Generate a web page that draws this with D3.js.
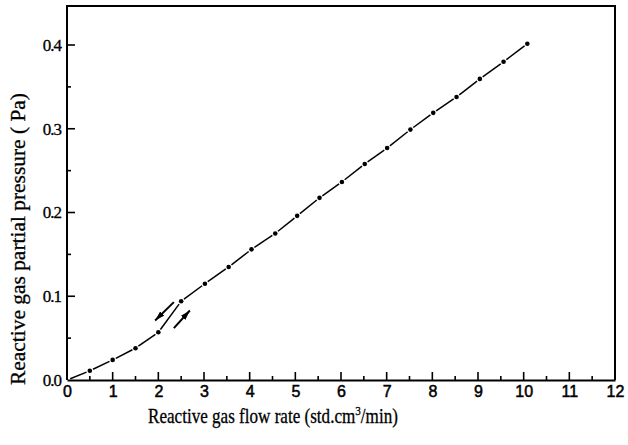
<!DOCTYPE html>
<html><head><meta charset="utf-8">
<script src="https://cdn.jsdelivr.net/npm/d3@7"></script>
<style>body{margin:0;background:#fff}svg{display:block}</style>
</head><body>
<svg id="c" width="628" height="445"></svg>
<script>
const flowRate = [0, 0.5, 1.0, 1.5, 2.0, 2.5, 3.02, 3.54, 4.04, 4.56, 5.04, 5.53, 6.02, 6.52, 7.01, 7.52, 8.02, 8.53, 9.04, 9.56, 10.08];
const pressure = [0.0, 0.011, 0.024, 0.038, 0.057, 0.094, 0.115, 0.135, 0.156, 0.175, 0.196, 0.2175, 0.2365, 0.258, 0.277, 0.299, 0.319, 0.338, 0.3595, 0.38, 0.4015];
const xTicks = [0,1,2,3,4,5,6,7,8,9,10,11,12];
const yTicks = [0.0, 0.1, 0.2, 0.3, 0.4];
const yTickLabels = ["0.0","0.1","0.2","0.3","0.4"];
// hysteresis arrows: [x1,y1,x2,y2] (tail -> head), data units
const arrows = [[2.34, 0.093, 1.93, 0.071], [2.34, 0.062, 2.69, 0.083]];
const xTitle = "Reactive gas flow rate (std.cm";
const yTitle = "Reactive gas partial pressure ( Pa)";

const svg = d3.select("#c");
const L = 67, R = 615, T = 6, B = 380;
const x = d3.scaleLinear().domain([0, 12]).range([L, R]);
const y = d3.scaleLinear().domain([0, 0.4]).range([B, 45]);

// frame
svg.append("path").attr("d", `M${L},${B}V${T}H${R}V${B}`).attr("fill","none").attr("stroke","#000").attr("stroke-width",2);

// x axis
const xAxis = d3.axisBottom(x).tickValues(xTicks).tickSize(0).tickPadding(6).tickFormat(d3.format("d"));
const gx = svg.append("g").attr("transform", `translate(0,${B})`).call(xAxis);
gx.select(".domain").attr("stroke","#000").attr("stroke-width",2);
gx.selectAll("text").attr("font-family","Liberation Sans, Arial, sans-serif").attr("font-size",16).attr("fill","#000").attr("stroke","#000").attr("stroke-width",0.5);
const xMinor = d3.range(0.5, 12, 1);
svg.append("g").selectAll("line").data(xTicks.slice(1, -1)).join("line")
  .attr("x1", d => x(d)).attr("x2", d => x(d)).attr("y1", B).attr("y2", B - 8).attr("stroke","#000").attr("stroke-width",1.6);
svg.append("g").selectAll("line").data(xMinor).join("line")
  .attr("x1", d => x(d)).attr("x2", d => x(d)).attr("y1", B).attr("y2", B - 4).attr("stroke","#000").attr("stroke-width",1.6);

// y axis
const yAxis = d3.axisLeft(y).tickValues(yTicks).tickSize(0).tickPadding(6).tickFormat((d, i) => yTickLabels[i]);
const gy = svg.append("g").attr("transform", `translate(${L},0)`).call(yAxis);
gy.select(".domain").remove();
gy.selectAll("text").attr("font-family","Liberation Serif, Times New Roman, serif").attr("font-size",17).attr("fill","#000").attr("letter-spacing",-1).attr("stroke","#000").attr("stroke-width",0.3);
svg.append("g").selectAll("line").data(yTicks.slice(1)).join("line")
  .attr("x1", L).attr("x2", L + 8).attr("y1", d => y(d)).attr("y2", d => y(d)).attr("stroke","#000").attr("stroke-width",1.6);
svg.append("g").selectAll("line").data([0.05,0.15,0.25,0.35]).join("line")
  .attr("x1", L).attr("x2", L + 4).attr("y1", d => y(d)).attr("y2", d => y(d)).attr("stroke","#000").attr("stroke-width",1.6);

// data line segments with gaps around markers
const pts = flowRate.map((v, i) => [x(v), y(pressure[i])]);
const segs = [];
for (let i = 0; i < pts.length - 1; i++) {
  const [x1, y1] = pts[i], [x2, y2] = pts[i + 1];
  const dx = x2 - x1, dy = y2 - y1, len = Math.hypot(dx, dy);
  const g = 3.5;
  segs.push([x1 + dx * g / len, y1 + dy * g / len, x2 - dx * g / len, y2 - dy * g / len]);
}
svg.append("g").selectAll("line").data(segs).join("line")
  .attr("x1", d => d[0]).attr("y1", d => d[1]).attr("x2", d => d[2]).attr("y2", d => d[3])
  .attr("stroke","#000").attr("stroke-width",1.5);
svg.append("g").selectAll("circle").data(pts.slice(1)).join("circle")
  .attr("cx", d => d[0]).attr("cy", d => d[1]).attr("r", 2.3).attr("fill","#000");

// arrows
svg.append("defs").append("marker").attr("id","ah").attr("viewBox","0 0 10 6").attr("refX",10).attr("refY",3)
  .attr("markerWidth",10).attr("markerHeight",6).attr("markerUnits","userSpaceOnUse").attr("orient","auto")
  .append("path").attr("d","M0,0L10,3L0,6Z").attr("fill","#000");
svg.append("g").selectAll("line").data(arrows).join("line")
  .attr("x1", d => x(d[0])).attr("y1", d => y(d[1])).attr("x2", d => x(d[2])).attr("y2", d => y(d[3]))
  .attr("stroke","#000").attr("stroke-width",2).attr("marker-end","url(#ah)");

// titles
const serif = "Liberation Serif, Times New Roman, serif";
const xt = svg.append("text").attr("font-family", serif).attr("font-size",20).attr("fill","#000").attr("stroke","#000").attr("stroke-width",0.3);
xt.append("tspan").text(xTitle);
xt.append("tspan").attr("dy",-8).attr("font-size",13).text("3");
xt.append("tspan").attr("dy",8).text("/min)");
const wx = xt.node().getComputedTextLength();
xt.attr("transform", `translate(148,423) scale(${250 / wx},1)`);

const yt = svg.append("text").attr("font-family", serif).attr("font-size",20).attr("fill","#000").attr("stroke","#000").attr("stroke-width",0.3).text(yTitle);
const wy = yt.node().getComputedTextLength();
yt.attr("transform", `translate(25,385) rotate(-90) scale(${292 / wy},1)`);
</script>
</body></html>
